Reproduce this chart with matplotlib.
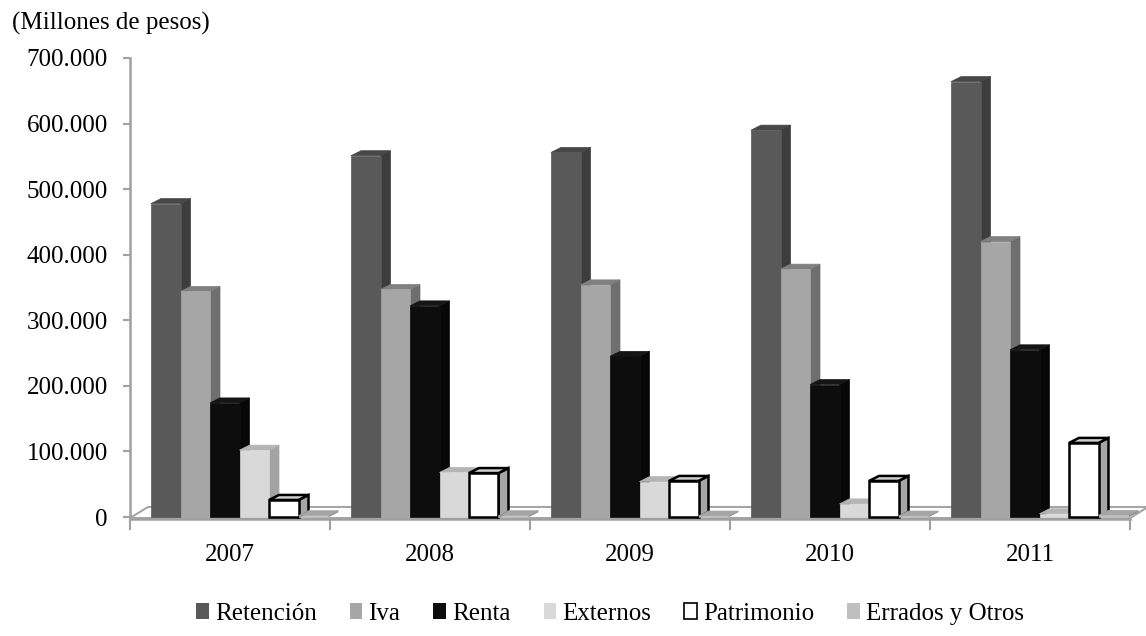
import matplotlib
matplotlib.use("Agg")
import matplotlib.pyplot as plt
from matplotlib.patches import Polygon, Patch
from matplotlib.ticker import FuncFormatter, FixedLocator

plt.rcParams['font.family'] = ['Liberation Serif', 'DejaVu Serif']

years = ["2007", "2008", "2009", "2010", "2011"]
series = ["Retención", "Iva", "Renta", "Externos", "Patrimonio", "Errados y Otros"]
retencion = [478000, 551000, 556000, 590000, 664000]
iva = [344000, 347000, 354000, 378000, 420000]
renta = [174000, 322000, 245000, 202000, 255000]
externos = [102000, 68000, 54000, 20000, 5000]
patrimonio = [26000, 67000, 55000, 55000, 113000]
errados = [2000, 2000, 1500, 1500, 2500]
values = [retencion, iva, renta, externos, patrimonio, errados]

front_c = ["#595959", "#a6a6a6", "#0d0d0d", "#d9d9d9", "#ffffff", "#bfbfbf"]
side_c = ["#3d3d3d", "#6e6e6e", "#070707", "#a3a3a3", "#a6a6a6", "#8c8c8c"]
top_c = ["#474747", "#808080", "#151515", "#b5b5b5", "#cfcfcf", "#a6a6a6"]
edge_c = [None, None, None, None, "#000000", None]

W, H = 1146, 636
fig = plt.figure(figsize=(W / 100, H / 100), dpi=100)
x0, x1 = 130, 1130
y0, y1 = 517, 58
ax = fig.add_axes([x0 / W, (H - y0) / H, (x1 - x0) / W, (y0 - y1) / H])
ymax = 700000
ax.set_xlim(0, 5)
ax.set_ylim(0, ymax)

px_x = 5 / (x1 - x0)
px_y = ymax / (y0 - y1)
dx = 10 * px_x
dy = 5 * px_y
bw = 29.5 * px_x
off = 21 * px_x

# floor
fdx, fdy = 18 * px_x, 10 * px_y
floor = Polygon([(0, -1 * px_y), (5, -1 * px_y), (5 + fdx, fdy), (fdx, fdy)],
                closed=True, facecolor="white", edgecolor="#a6a6a6", lw=1.5,
                clip_on=False, zorder=1)
ax.add_patch(floor)

z = 2
for g in range(len(years)):
    for s in range(len(series)):
        v = values[s][g]
        xl = g + off + s * bw
        xr = xl + bw
        ec = edge_c[s]
        lw = 1.8 if ec else 0
        side = Polygon([(xr, 0), (xr + dx, dy), (xr + dx, v + dy), (xr, v)], closed=True,
                       facecolor=side_c[s], edgecolor=ec if ec else side_c[s], lw=lw if ec else 0.5,
                       clip_on=False, zorder=z)
        top = Polygon([(xl, v), (xl + dx, v + dy), (xr + dx, v + dy), (xr, v)], closed=True,
                      facecolor=top_c[s], edgecolor=ec if ec else top_c[s], lw=lw if ec else 0.5,
                      clip_on=False, zorder=z)
        ax.add_patch(side)
        ax.add_patch(top)
        ax.bar(xl, v, width=bw, align="edge", color=front_c[s],
               edgecolor=ec if ec else front_c[s], linewidth=lw if ec else 0.5,
               zorder=z + 0.5, clip_on=False)
        z += 1

# axes styling
for sp in ["top", "right"]:
    ax.spines[sp].set_visible(False)
ax.spines["left"].set_color("#a0a0a0")
ax.spines["left"].set_linewidth(1.8)
ax.spines["bottom"].set_color("#a0a0a0")
ax.spines["bottom"].set_linewidth(1.8)
ax.spines["bottom"].set_position(("data", -2 * px_y))

ax.set_yticks(range(0, 700001, 100000))
ax.yaxis.set_major_formatter(FuncFormatter(lambda v, p: f"{v:,.0f}".replace(",", ".")))
ax.tick_params(axis="y", direction="out", length=5, width=1.5, color="#a0a0a0",
               labelsize=18, pad=11)

ax.xaxis.set_major_locator(FixedLocator([0, 1, 2, 3, 4, 5]))
ax.xaxis.set_minor_locator(FixedLocator([0.5, 1.5, 2.5, 3.5, 4.5]))
ax.set_xticklabels([], minor=False)
ax.set_xticklabels(years, minor=True)
ax.tick_params(axis="x", which="major", direction="out", length=8, width=1.5, color="#a0a0a0")
ax.tick_params(axis="x", which="minor", length=0, labelsize=18, pad=18)

fig.text(12 / W, 1 - 23 / H, "(Millones de pesos)", fontsize=18, va="center", ha="left")

handles = []
for s in range(len(series)):
    handles.append(Patch(facecolor=front_c[s], edgecolor="#000000" if edge_c[s] else front_c[s],
                         linewidth=1.2 if edge_c[s] else 0))
fig.legend(handles, series, loc="center", bbox_to_anchor=(610 / W, 1 - 614 / H), ncol=6,
           frameon=False, fontsize=18, handlelength=0.5, handleheight=0.6,
           handletextpad=0.25, columnspacing=1.32, borderpad=0)

fig.savefig("out.png", dpi=100)
